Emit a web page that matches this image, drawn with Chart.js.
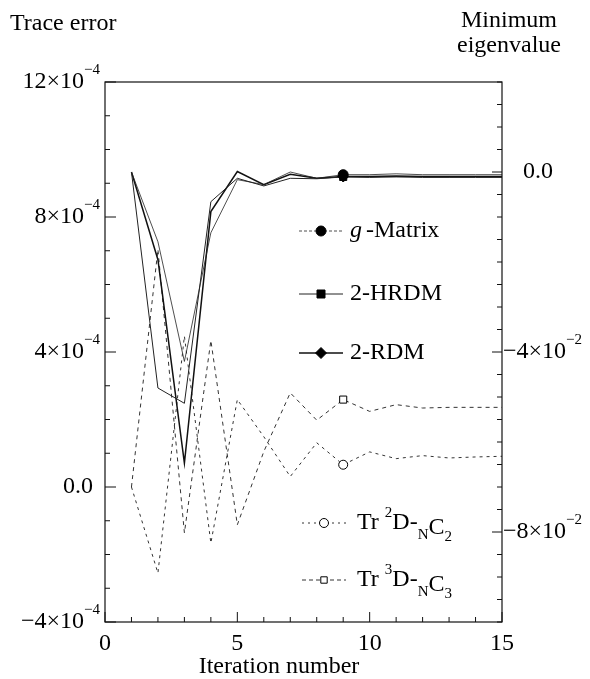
<!DOCTYPE html>
<html>
<head>
<meta charset="utf-8">
<script src="https://cdn.jsdelivr.net/npm/chart.js@4/dist/chart.umd.min.js"></script>
<style>
  html, body { margin: 0; padding: 0; background: #fff; }
  #wrap { width: 590px; height: 679px; }
</style>
</head>
<body>
<div id="wrap"><canvas id="chart" width="590" height="679"></canvas></div>
<script>
// iteration axis
const iterations = [1, 2, 3, 4, 5, 6, 7, 8, 9, 10, 11, 12, 13, 14, 15];

// minimum eigenvalue (right axis)
const gMatrix = [0, -0.0155, -0.0421, -0.0135, -0.0017, -0.0028, 0.0000, -0.0014, -0.0006, -0.0006, -0.0004, -0.0006, -0.0006, -0.0006, -0.0006];
const hrdm    = [0, -0.0480, -0.0514, -0.0066, -0.0014, -0.0031, -0.0014, -0.0015, -0.0011, -0.0012, -0.0011, -0.0012, -0.0012, -0.0012, -0.0012];
const rdm     = [0, -0.0195, -0.0647, -0.0088, 0.0001, -0.0028, -0.0005, -0.0014, -0.0010, -0.0010, -0.0009, -0.0010, -0.0010, -0.0010, -0.0010];

// trace errors (left axis)
const trD2 = [0, -2.55e-4, 4.47e-4, -1.66e-4, 2.59e-4, 1.49e-4, 0.31e-4, 1.31e-4, 0.66e-4, 1.04e-4, 0.84e-4, 0.93e-4, 0.86e-4, 0.89e-4, 0.91e-4];
const trD3 = [0, 7.04e-4, -1.36e-4, 4.34e-4, -1.12e-4, 1.05e-4, 2.79e-4, 1.98e-4, 2.59e-4, 2.24e-4, 2.44e-4, 2.34e-4, 2.36e-4, 2.36e-4, 2.36e-4];

// tick labels
const leftTicks = [
  { v: 12e-4, main: '12×10', sup: '−4' },
  { v: 8e-4, main: '8×10', sup: '−4' },
  { v: 4e-4, main: '4×10', sup: '−4' },
  { v: 0, main: '0.0', sup: '' },
  { v: -4e-4, main: '−4×10', sup: '−4' },
];
const rightTicks = [
  { v: 0, main: '0.0', sup: '' },
  { v: -0.04, main: '−4×10', sup: '−2' },
  { v: -0.08, main: '−8×10', sup: '−2' },
];
const bottomTicks = [0, 5, 10, 15];

const MARK_AT = 9; // iteration where markers are drawn
const FONT = '"Liberation Serif", "Times New Roman", serif';
const FS = 24; // main text size
const SS = 15; // super/subscript size

function pts(arr) {
  return iterations.map((x, i) => ({ x, y: arr[i] }));
}
function radii(r) {
  return iterations.map((x) => (x === MARK_AT ? r : 0));
}

const series = [
  { label: 'g', axis: 'yR', data: gMatrix, width: 0.8, dash: [], lDash: [3, 2], style: 'circle', r: 5, fill: '#000', color: '#222' },
  { label: '2-HRDM', axis: 'yR', data: hrdm, width: 1, dash: [], lDash: [], style: 'rect', r: 5, fill: '#000', color: '#222' },
  { label: '2-RDM', axis: 'yR', data: rdm, width: 1.5, dash: [], lDash: [], style: 'rectRot', r: 5.5, fill: '#000', color: '#111' },
  { label: 'Tr2', axis: 'yL', data: trD2, width: 1, dash: [3, 4], lDash: [2, 4], style: 'circle', r: 4.5, fill: '#fff', color: '#333' },
  { label: 'Tr3', axis: 'yL', data: trD3, width: 1, dash: [4, 4], lDash: [4, 3], style: 'rect', r: 5, fill: '#fff', color: '#333' },
];

function drawParts(ctx, parts, x, y, align) {
  let w = 0;
  parts.forEach((p) => {
    ctx.font = (p.italic ? 'italic ' : '') + p.size + 'px ' + FONT;
    p.w = ctx.measureText(p.t).width + (p.gap || 0);
    w += p.w;
  });
  let cx = align === 'right' ? x - w : align === 'center' ? x - w / 2 : x;
  ctx.textAlign = 'left';
  ctx.textBaseline = 'middle';
  parts.forEach((p) => {
    ctx.font = (p.italic ? 'italic ' : '') + p.size + 'px ' + FONT;
    ctx.fillText(p.t, cx, y + (p.dy || 0));
    cx += p.w;
  });
}

function tickParts(t) {
  const parts = [{ t: t.main, size: FS }];
  if (t.sup) parts.push({ t: t.sup, size: SS, dy: -12 });
  return parts;
}

function marker(ctx, style, x, y, r, fill) {
  ctx.save();
  ctx.fillStyle = fill;
  ctx.strokeStyle = '#000';
  ctx.lineWidth = 1;
  ctx.setLineDash([]);
  ctx.beginPath();
  if (style === 'circle') {
    ctx.arc(x, y, r, 0, Math.PI * 2);
  } else if (style === 'rect') {
    ctx.rect(x - r * 0.8, y - r * 0.8, r * 1.6, r * 1.6);
  } else {
    ctx.moveTo(x, y - r);
    ctx.lineTo(x + r, y);
    ctx.lineTo(x, y + r);
    ctx.lineTo(x - r, y);
    ctx.closePath();
  }
  ctx.fill();
  ctx.stroke();
  ctx.restore();
}

const framePlugin = {
  id: 'frame',
  afterDraw(chart) {
    const ctx = chart.ctx;
    const a = chart.chartArea;
    const xs = chart.scales.x, yL = chart.scales.yL, yR = chart.scales.yR;
    ctx.save();
    ctx.strokeStyle = '#111';
    ctx.lineWidth = 1.2;
    ctx.setLineDash([]);
    ctx.strokeRect(a.left, a.top, a.right - a.left, a.bottom - a.top);

    ctx.lineWidth = 1;
    ctx.beginPath();
    // bottom ticks, inward
    for (let v = 0; v <= 15; v++) {
      const px = xs.getPixelForValue(v);
      const len = v % 5 === 0 ? 10 : 5;
      ctx.moveTo(px, a.bottom);
      ctx.lineTo(px, a.bottom - len);
    }
    // left ticks
    for (let k = -4; k <= 12; k++) {
      const py = yL.getPixelForValue(k * 1e-4);
      const len = k % 4 === 0 ? 11 : 5;
      ctx.moveTo(a.left, py);
      ctx.lineTo(a.left + len, py);
    }
    // right ticks
    for (let k = -20; k <= 4; k++) {
      const py = yR.getPixelForValue(k * 0.005);
      const len = k % 8 === 0 ? 10 : 5;
      ctx.moveTo(a.right, py);
      ctx.lineTo(a.right - len, py);
    }
    ctx.stroke();

    ctx.fillStyle = '#000';
    leftTicks.forEach((t) => {
      drawParts(ctx, tickParts(t), t.sup ? 100 : 93, yL.getPixelForValue(t.v), 'right');
    });
    rightTicks.forEach((t) => {
      drawParts(ctx, tickParts(t), t.sup ? 503 : 523, yR.getPixelForValue(t.v), 'left');
    });
    bottomTicks.forEach((v) => {
      drawParts(ctx, [{ t: String(v), size: FS }], xs.getPixelForValue(v), 644, 'center');
    });

    // axis titles
    drawParts(ctx, [{ t: 'Trace error', size: FS }], 10, 24, 'left');
    drawParts(ctx, [{ t: 'Minimum', size: FS }], 509, 21, 'center');
    drawParts(ctx, [{ t: 'eigenvalue', size: FS }], 509, 46, 'center');
    drawParts(ctx, [{ t: 'Iteration number', size: FS }], 279, 667, 'center');

    // legend
    const rows = [
      { s: 0, y: 231, x0: 299, x1: 343, tx: 350, parts: [{ t: 'g', size: FS, italic: true, gap: 4 }, { t: '-Matrix', size: FS }] },
      { s: 1, y: 294, x0: 299, x1: 343, tx: 350, parts: [{ t: '2-HRDM', size: FS }] },
      { s: 2, y: 353, x0: 299, x1: 343, tx: 350, parts: [{ t: '2-RDM', size: FS }] },
      { s: 3, y: 523, x0: 302, x1: 346, tx: 357, parts: [
        { t: 'Tr ', size: FS }, { t: '2', size: SS, dy: -10 }, { t: 'D-', size: FS },
        { t: 'N', size: SS, dy: 12 }, { t: 'C', size: FS, dy: 5 }, { t: '2', size: SS, dy: 14 }] },
      { s: 4, y: 580, x0: 302, x1: 346, tx: 357, parts: [
        { t: 'Tr ', size: FS }, { t: '3', size: SS, dy: -10 }, { t: 'D-', size: FS },
        { t: 'N', size: SS, dy: 12 }, { t: 'C', size: FS, dy: 5 }, { t: '3', size: SS, dy: 14 }] },
    ];
    rows.forEach((row) => {
      const s = series[row.s];
      ctx.save();
      ctx.strokeStyle = s.color;
      ctx.lineWidth = s.width;
      ctx.setLineDash(s.lDash);
      ctx.beginPath();
      ctx.moveTo(row.x0, row.y);
      ctx.lineTo(row.x1, row.y);
      ctx.stroke();
      ctx.restore();
      marker(ctx, s.style, (row.x0 + row.x1) / 2, row.y, row.s === 4 ? 4 : s.r, s.fill);
      ctx.fillStyle = '#000';
      drawParts(ctx, row.parts, row.tx, row.y, 'left');
    });
    ctx.restore();
  },
};

new Chart(document.getElementById('chart').getContext('2d'), {
  type: 'line',
  data: {
    datasets: series.map((s) => ({
      label: s.label,
      data: pts(s.data),
      yAxisID: s.axis,
      borderColor: s.color,
      borderWidth: s.width,
      borderDash: s.dash,
      tension: 0,
      fill: false,
      pointStyle: s.style,
      pointRadius: radii(s.r),
      pointBackgroundColor: s.fill,
      pointBorderColor: '#000',
      pointBorderWidth: 1,
    })),
  },
  options: {
    responsive: false,
    animation: false,
    devicePixelRatio: 1,
    layout: { padding: { left: 105, right: 88, top: 82, bottom: 57 } },
    plugins: { legend: { display: false }, tooltip: { enabled: false } },
    scales: {
      x: { type: 'linear', min: 0, max: 15, display: false },
      yL: { type: 'linear', position: 'left', min: -4e-4, max: 12e-4, display: false },
      yR: { type: 'linear', position: 'right', min: -0.1, max: 0.02, display: false },
    },
  },
  plugins: [framePlugin],
});
</script>
</body>
</html>
